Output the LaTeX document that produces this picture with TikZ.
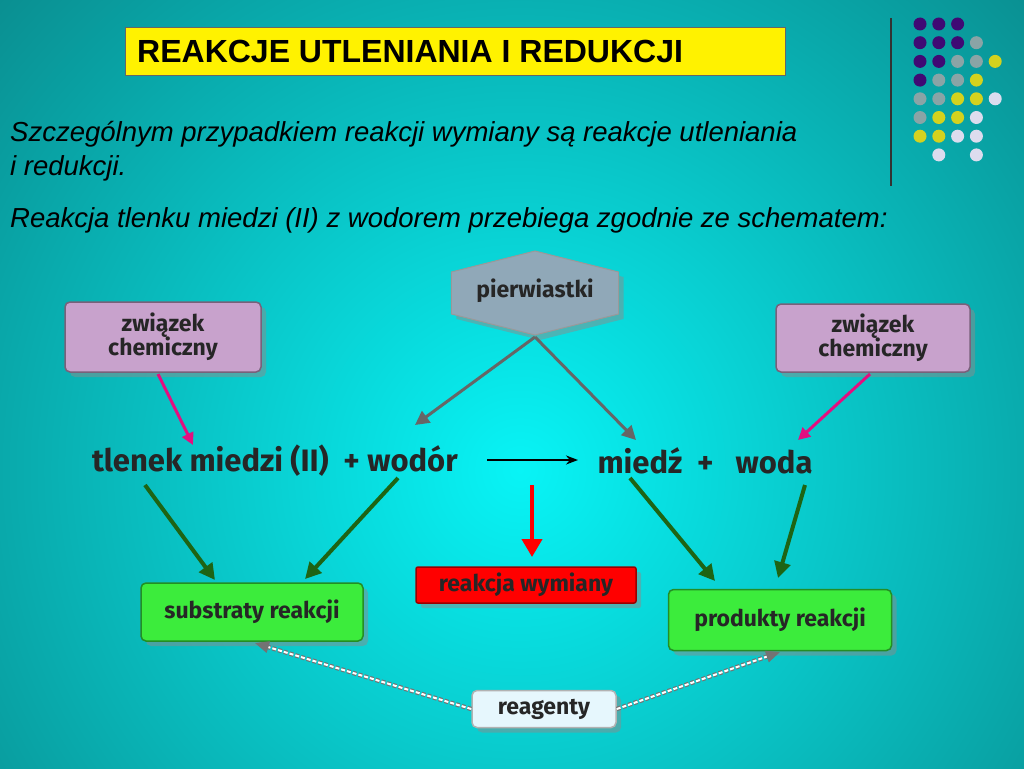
\documentclass[tikz,border=0pt]{standalone}
\usepackage{fontspec}
\setmainfont{Liberation Sans}
\newfontfamily\boxfont{Fira Sans}
\usetikzlibrary{shapes.geometric,arrows.meta}
\definecolor{bgteal}{HTML}{0A7E80}
\definecolor{bgcyan}{HTML}{08F4F6}
\definecolor{dotpurple}{HTML}{3F0A74}
\definecolor{dotgray}{HTML}{8AA4A6}
\definecolor{dotyellow}{HTML}{D4D21E}
\definecolor{dotwhite}{HTML}{DCDCEE}
\definecolor{hexgray}{HTML}{90A8B8}
\definecolor{pinkbox}{HTML}{C8A2CC}
\definecolor{greenbox}{HTML}{3CEC3C}
\definecolor{arrowgreen}{HTML}{1E6414}
\begin{document}
\begin{tikzpicture}[x=1pt,y=-1pt,
  box/.style={draw=#1!60!black,rounded corners=5pt,line width=1.5pt,font=\boxfont\bfseries\fontsize{23}{27}\selectfont,text=black!85,align=center},
  shadowed/.style={preaction={fill=black!45,opacity=0.5,transform canvas={shift={(5pt,-5pt)}}}},
  greenarrow/.style={-{Triangle[length=16pt,width=16pt]},line width=4pt,draw=arrowgreen},
  grayarrow/.style={-{Triangle[length=14pt,width=14pt]},line width=3pt,draw=black!60},
  pinkarrow/.style={-{Triangle[length=12pt,width=12pt]},line width=3pt,draw=magenta!80!purple},
  reagarrow/.style={-{Triangle[length=14pt,width=12pt]},double=white,double distance=2pt,line width=1.2pt,draw=black!55,dash pattern=on 4pt off 2pt},
  eqtext/.style={font=\boxfont\bfseries\fontsize{31}{36}\selectfont,text=black!85},
  itext/.style={anchor=base west,font=\itshape\fontsize{27.5}{32}\selectfont,text=black,inner sep=0pt}]
% background
\fill[bgteal] (0,0) rectangle (1024,768);
\begin{scope}
\clip (0,0) rectangle (1024,768);
\shade[inner color=bgcyan,outer color=bgteal] (520,470) circle (820);
\end{scope}
\useasboundingbox (0,0) rectangle (1024,768);
% title and decoration
\node[fill=yellow,draw=black!60,minimum width=660pt,minimum height=48pt,anchor=north west] (title) at (125,27) {};
\node[anchor=west,font=\bfseries\fontsize{32}{36}\selectfont,inner sep=0pt] (titletext) at (137,51) {REAKCJE UTLENIANIA I REDUKCJI};
\draw[line width=1.5pt,black!80] (891,18) -- (891,186);
\foreach \i/\j/\col in {0/0/dotpurple,1/0/dotpurple,2/0/dotpurple,
  0/1/dotpurple,1/1/dotpurple,2/1/dotpurple,3/1/dotgray,
  0/2/dotpurple,1/2/dotpurple,2/2/dotgray,3/2/dotgray,4/2/dotyellow,
  0/3/dotpurple,1/3/dotgray,2/3/dotgray,3/3/dotyellow,
  0/4/dotgray,1/4/dotgray,2/4/dotyellow,3/4/dotyellow,4/4/dotwhite,
  0/5/dotgray,1/5/dotyellow,2/5/dotyellow,3/5/dotwhite,
  0/6/dotyellow,1/6/dotyellow,2/6/dotwhite,3/6/dotwhite,
  1/7/dotwhite,3/7/dotwhite}
  \fill[\col] (920+18.8*\i,24+18.7*\j) circle (6.5);
% introductory text
\node[itext] (intro1) at (10,141) {Szczególnym przypadkiem reakcji wymiany są reakcje utleniania};
\node[itext] (intro2) at (10,175) {i redukcji.};
\node[itext] (scheme) at (10,227) {Reakcja tlenku miedzi (II) z wodorem przebiega zgodnie ze schematem:};
% diagram
\node[regular polygon,regular polygon sides=6,shape border rotate=90,fill=hexgray,draw=black!40,line width=1pt,minimum size=84pt,xscale=2.3,shadowed] (hexa) at (535,293) {};
\node[font=\boxfont\bfseries\fontsize{23}{27}\selectfont,text=black!85] (pierw) at (535,291) {pierwiastki};
\node[box=pinkbox,fill=pinkbox,minimum width=196pt,minimum height=70pt,shadowed] (zwL) at (163,337) {związek\\[-3pt]chemiczny};
\node[box=pinkbox,fill=pinkbox,minimum width=194pt,minimum height=68pt,shadowed] (zwR) at (873,338) {związek\\[-3pt]chemiczny};
\node[eqtext] (substr) at (275,461) {tlenek miedzi (II)\ \ + wodór};
\node[eqtext] (prod) at (705,461) {miedź\ \ +\ \ \ woda};
\coordinate (tlenek) at (145,485);
\coordinate (wodor) at (398,478);
\coordinate (miedz) at (630,478);
\coordinate (woda) at (805,485);
\node[box=greenbox,fill=greenbox,minimum width=222pt,minimum height=58pt,shadowed] (sub) at (252,612) {substraty reakcji};
\node[box=red,fill=red,minimum width=220pt,minimum height=36pt,rounded corners=2pt,shadowed] (wym) at (526,585) {reakcja wymiany};
\node[box=greenbox,fill=greenbox,minimum width=223pt,minimum height=61pt,shadowed] (pro) at (780,620) {produkty reakcji};
\node[box=white,fill=white!90!cyan,draw=black!30,minimum width=144pt,minimum height=37pt,shadowed] (reag) at (544,709) {reagenty};
% arrows
\coordinate (arrL) at (487,460);
\coordinate (arrR) at (578,460);
\draw[-{Stealth[length=12pt,width=9pt]},line width=2pt,black] (arrL) -- (arrR);
\draw[pinkarrow] (158,374) -- (193,445);
\draw[pinkarrow] (870,374) -- (798,440);
\draw[grayarrow] (535,337) -- (415,425);
\draw[grayarrow] (535,337) -- (636,440);
\draw[greenarrow] (tlenek) -- (215,580);
\draw[greenarrow] (wodor) -- (305,579);
\draw[greenarrow] (miedz) -- (715,581);
\draw[greenarrow] (woda) -- (778,578);
\coordinate (redtop) at (532,485);
\coordinate (redtip) at (532,557);
\draw[-{Triangle[length=18pt,width=20pt]},line width=4pt,red] (redtop) -- (redtip);
\draw[reagarrow] (reag.west) -- (255,643);
\draw[reagarrow] (reag.east) -- (780,652);
\end{tikzpicture}
\end{document}
